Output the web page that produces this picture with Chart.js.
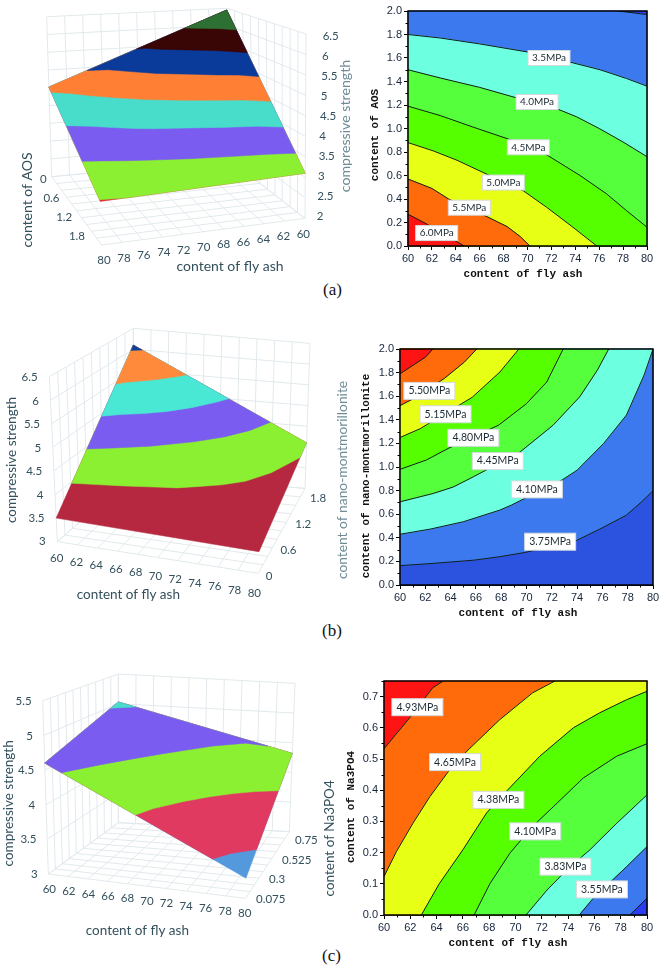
<!DOCTYPE html>
<html>
<head>
<meta charset="utf-8">
<title>compressive strength response surfaces</title>
<script src="https://cdn.jsdelivr.net/npm/chart.js@4"></script>
<style>
  html, body { margin: 0; padding: 0; background: #fff; }
  #page { position: relative; width: 661px; height: 967px; overflow: hidden; background: #fff; }
  #page canvas { position: absolute; }
  .caption { position: absolute; font: 17px "Liberation Serif", serif; color: #111; }
</style>
</head>
<body>
<div id="page">
  <div class="caption" style="left:323px;top:280px">(a)</div>
  <div class="caption" style="left:322px;top:621px">(b)</div>
  <div class="caption" style="left:322px;top:946px">(c)</div>
</div>
<script>
// axis ticks
const ashTicks = [60, 62, 64, 66, 68, 70, 72, 74, 76, 78, 80];
const contentGrid = [0, 0.2, 0.4, 0.6, 0.8, 1.0, 1.2, 1.4, 1.6, 1.8, 2.0];
const contentLabels = [0, 0.6, 1.2, 1.8];
const na3po4Grid = [0, 0.075, 0.15, 0.225, 0.3, 0.375, 0.45, 0.525, 0.6, 0.675, 0.75];
const na3po4Labels = [0.075, 0.3, 0.525, 0.75];
const strengthTicksA = [2, 2.5, 3, 3.5, 4, 4.5, 5, 5.5, 6, 6.5];
const strengthTicksB = [3, 3.5, 4, 4.5, 5, 5.5, 6, 6.5];
const strengthTicksC = [3, 3.5, 4, 4.5, 5, 5.5];

// panel (a) contours, [fly ash, AOS]
const a300 = [[77.6, 2], [80, 1.97]];
const a350 = [[60, 1.80], [62.7, 1.77], [66, 1.72], [70.07, 1.65], [73.55, 1.565], [76.07, 1.50], [78.3, 1.425], [80, 1.36]];
const a400 = [[60, 1.50], [62.7, 1.43], [66, 1.35], [69.1, 1.26], [72.4, 1.17], [74.1, 1.10], [76, 1.0], [78, 0.885], [80, 0.76]];
const a450 = [[60, 1.19], [62.7, 1.11], [65.5, 1.01], [68.4, 0.91], [71.7, 0.77], [74.4, 0.60], [76.6, 0.445], [78.3, 0.30], [80, 0.16]];
const a500 = [[60, 0.88], [62.1, 0.81], [64.1, 0.73], [66.2, 0.63], [69.65, 0.47], [71.6, 0.33], [73.8, 0.16], [75.8, 0]];
const a550 = [[60, 0.57], [62, 0.49], [63.4, 0.40], [66.6, 0.25], [68.3, 0.165], [69.4, 0.08], [70.2, 0]];
const a600 = [[60, 0.27], [61.6, 0.185], [64.7, 0]];
const aLabels = [['3.5MPa', 71.8, 1.60], ['4.0MPa', 70.8, 1.225], ['4.5MPa', 70.07, 0.84], ['5.0MPa', 67.98, 0.54], ['5.5MPa', 65.13, 0.326], ['6.0MPa', 62.4, 0.11]];

// panel (b) contours, [fly ash, nano-montmorillonite]
const b375 = [[60, 0.164], [62.6, 0.183], [65.8, 0.21], [67.9, 0.24], [69.9, 0.276], [73.85, 0.372], [75.8, 0.474], [77.9, 0.592], [79.1, 0.705], [80, 0.798]];
const b410 = [[60, 0.43], [62.4, 0.474], [65, 0.536], [67.9, 0.635], [68.8, 0.677], [72.8, 0.889], [74, 0.973], [76.1, 1.2], [77.9, 1.44], [79.3, 1.78], [80, 2]];
const b445 = [[60, 0.705], [62.6, 0.775], [64.2, 0.83], [65.8, 0.917], [69.5, 1.128], [72.1, 1.354], [74.2, 1.594], [75.6, 1.82], [76.5, 2]];
const b480 = [[60, 0.98], [62.1, 1.06], [63.8, 1.157], [67.8, 1.355], [70, 1.537], [71.6, 1.72], [72.9, 2]];
const b515 = [[60, 1.25], [61.6, 1.325], [65.7, 1.59], [67.9, 1.805], [69.4, 2]];
const b550 = [[60, 1.52], [60.9, 1.57], [63.5, 1.75], [65.1, 1.89], [66.07, 2]];
const b585 = [[60, 1.79], [62, 1.93], [62.6, 2]];
const bLabels = [['5.50MPa', 62.32, 1.645], ['5.15MPa', 63.6, 1.447], ['4.80MPa', 65.8, 1.247], ['4.45MPa', 67.73, 1.05], ['4.10MPa', 70.82, 0.81], ['3.75MPa', 71.87, 0.367]];
// panel (b) surface bands
const b400 = [[60, 0.39], [62.5, 0.43], [65, 0.49], [68, 0.57], [70, 0.62], [72, 0.73], [74, 0.84], [76, 1.0], [78, 1.28], [80, 1.73]];
const b450 = [[60, 0.78], [62.6, 0.88], [65.8, 1.05], [69.5, 1.30], [72.1, 1.52], [74.2, 1.76], [75.7, 2]];
const b500 = [[60, 1.15], [62, 1.24], [64, 1.34], [66, 1.47], [68, 1.65], [70, 1.88], [70.9, 2]];
const b600 = [[60, 1.95], [61, 2]];

// panel (c) contours, [fly ash, Na3PO4]
const c355 = [[74.85, 0], [75.9, 0.053], [78.45, 0.155], [80, 0.219]];
const c328 = [[78.7, 0], [80, 0.054]];
const c383 = [[70.8, 0], [72.4, 0.08], [73.9, 0.145], [75.66, 0.209], [77.7, 0.294], [80, 0.385]];
const c410 = [[66.85, 0], [68.05, 0.10], [69.57, 0.198], [71.3, 0.284], [72.9, 0.348], [75.15, 0.439], [77.7, 0.509], [80, 0.549]];
const c438 = [[62.84, 0], [64.2, 0.10], [66, 0.209], [67.8, 0.327], [69.3, 0.396], [71.85, 0.509], [74.4, 0.60], [76.4, 0.648], [78.45, 0.69], [80, 0.717]];
const c465 = [[60, 0.123], [60.94, 0.203], [62.2, 0.294], [63.5, 0.38], [64.9, 0.46], [66.3, 0.525], [68.8, 0.626], [71.3, 0.712], [73, 0.75]];
const c493 = [[60, 0.533], [61.95, 0.632], [63.7, 0.728], [64.5, 0.75]];
const cLabels = [['4.93MPa', 62.54, 0.666], ['4.65MPa', 65.4, 0.49], ['4.38MPa', 68.7, 0.369], ['4.10MPa', 71.5, 0.268], ['3.83MPa', 73.8, 0.155], ['3.55MPa', 76.57, 0.082]];
// panel (c) surface bands
const c350 = [[76.7, 0], [78, 0.07], [80, 0.154]];
const c400 = [[69, 0], [70, 0.09], [72, 0.23], [74, 0.33], [76, 0.40], [78, 0.45], [80, 0.494]];
const c450 = [[61.7, 0], [64, 0.17], [66, 0.31], [68, 0.43], [70, 0.53], [72, 0.62], [75, 0.70], [77.3, 0.75]];
const c500 = [[60, 0.667], [62, 0.75]];

// strength read at the surface corners
const aCorners = { near: [60, 0, 6.45], left: [80, 0, 4.52], front: [80, 2, 2.98], right: [60, 2, 3.1] };
const bCorners = { a: [60, 0, 3.5], b: [80, 0, 3.44], c: [80, 2, 4.1], d: [60, 2, 6.1] };
const cCorners = { a: [60, 0, 4.6], b: [80, 0, 3.27], c: [80, 0.75, 4.32], d: [60, 0.75, 5.03] };

const page = document.getElementById('page');

function addCanvas(left, top, width, height) {
  const cv = document.createElement('canvas');
  cv.width = width;
  cv.height = height;
  cv.style.left = left + 'px';
  cv.style.top = top + 'px';
  cv.style.width = width + 'px';
  cv.style.height = height + 'px';
  page.appendChild(cv);
  return cv;
}

// fills a dataset's points as a closed shape
const shapeFill = {
  id: 'shapeFill',
  beforeDatasetDraw(chart, args) {
    const color = chart.data.datasets[args.index].shapeColor;
    if (!color) return;
    const ctx = chart.ctx;
    ctx.save();
    ctx.beginPath();
    args.meta.data.forEach((p, i) => (i ? ctx.lineTo(p.x, p.y) : ctx.moveTo(p.x, p.y)));
    ctx.closePath();
    ctx.fillStyle = color;
    ctx.fill();
    ctx.strokeStyle = color;
    ctx.lineWidth = 0.5;
    ctx.stroke();
    ctx.restore();
  }
};

function layered(datasets) {
  return datasets.map((d, i) => ({ pointRadius: 0, showLine: false, ...d, order: -i }));
}

/* ---------- contour panels ---------- */
function contourChart(p) {
  const padLeft = 42, padTop = 10, padRight = 14, padBottom = 42;
  const cv = addCanvas(p.left - padLeft, p.top - padTop, p.width + padLeft + padRight, p.height + padTop + padBottom);
  const toXY = arr => arr.map(v => ({ x: v[0], y: v[1] }));
  const fills = [{ shapeColor: p.base, data: toXY([[60, 0], [80, 0], [80, p.yMax], [60, p.yMax]]) }];
  const lines = [];
  p.layers.forEach(l => {
    fills.push({ shapeColor: l.color, data: toXY(l.line.concat(l.close)) });
    lines.push({ showLine: true, borderColor: '#10201a', borderWidth: 1, data: toXY(l.line) });
  });

  const decorate = {
    id: 'decorate',
    afterDraw(chart) {
      const ctx = chart.ctx, a = chart.chartArea, sx = chart.scales.x, sy = chart.scales.y;
      ctx.save();
      ctx.strokeStyle = '#000';
      ctx.lineWidth = 1;
      for (let v = 61; v < 80; v += 2) {
        const px = Math.round(sx.getPixelForValue(v)) + 0.5;
        ctx.beginPath(); ctx.moveTo(px, a.bottom); ctx.lineTo(px, a.bottom + 2.5); ctx.stroke();
      }
      for (let v = p.yStep / 2; v < p.yMax; v += p.yStep) {
        const py = Math.round(sy.getPixelForValue(v)) + 0.5;
        ctx.beginPath(); ctx.moveTo(a.left, py); ctx.lineTo(a.left - 2.5, py); ctx.stroke();
      }
      ctx.lineWidth = 1.5;
      ctx.strokeRect(a.left, a.top, a.right - a.left, a.bottom - a.top);

      // label boxes sit on the contours
      ctx.textAlign = 'center';
      ctx.textBaseline = 'middle';
      ctx.font = p.labelFont;
      p.labels.forEach(([text, x, y]) => {
        const cx = sx.getPixelForValue(x), cy = sy.getPixelForValue(y);
        ctx.fillStyle = '#fff';
        ctx.strokeStyle = '#d5dadd';
        ctx.lineWidth = 1;
        ctx.fillRect(cx - p.labelW / 2, cy - p.labelH / 2, p.labelW, p.labelH);
        ctx.strokeRect(cx - p.labelW / 2, cy - p.labelH / 2, p.labelW, p.labelH);
        ctx.fillStyle = '#1c2a33';
        ctx.fillText(text, cx, cy);
      });

      // axis titles
      const ox = p.left - padLeft, oy = p.top - padTop;
      ctx.fillStyle = '#111';
      ctx.font = 'bold 11px "Liberation Mono", monospace';
      ctx.fillText(p.xTitle, p.xTitleAt[0] - ox, p.xTitleAt[1] - oy);
      ctx.translate(p.yTitleAt[0] - ox, p.yTitleAt[1] - oy);
      ctx.rotate(-Math.PI / 2);
      ctx.fillText(p.yTitle, 0, 0);
      ctx.restore();
    }
  };

  const tickStyle = { color: '#16263c', font: { family: '"Liberation Sans"', size: 11 }, padding: 2 };
  return new Chart(cv, {
    type: 'scatter',
    data: { datasets: layered(fills.concat(lines)) },
    plugins: [shapeFill, decorate],
    options: {
      responsive: false,
      animation: false,
      layout: { padding: { top: padTop, right: padRight, left: 0, bottom: 0 } },
      plugins: { legend: { display: false }, tooltip: { enabled: false } },
      scales: {
        x: {
          type: 'linear', min: 60, max: 80,
          afterFit: s => { s.height = padBottom; },
          ticks: { ...tickStyle, stepSize: 2, maxRotation: 0, autoSkip: false, callback: v => String(v) },
          grid: { drawOnChartArea: false, tickLength: 4, color: '#000' },
          border: { color: '#000' }
        },
        y: {
          type: 'linear', min: 0, max: p.yMax,
          afterFit: s => { s.width = padLeft; },
          ticks: { ...tickStyle, stepSize: p.yStep, includeBounds: false, autoSkip: false, callback: v => v.toFixed(1) },
          grid: { drawOnChartArea: false, tickLength: 4, color: '#000' },
          border: { color: '#000' }
        }
      }
    }
  });
}

const toA = [[80, 0], [60, 0]];
contourChart({
  left: 408, top: 11, width: 239, height: 235, yMax: 2, yStep: 0.2, base: '#2a3cf0',
  layers: [
    { line: a300, close: [[80, 0], [60, 0], [60, 2]], color: '#3c78ee' },
    { line: a350, close: toA, color: '#6cffe0' },
    { line: a400, close: toA, color: '#55ff3c' },
    { line: a450, close: toA, color: '#55ff00' },
    { line: a500, close: [[60, 0]], color: '#e6ff14' },
    { line: a550, close: [[60, 0]], color: '#ff6a0a' },
    { line: a600, close: [[60, 0]], color: '#ff1414' }
  ],
  labels: aLabels, labelW: 42, labelH: 15, labelFont: '10px Lato',
  xTitle: 'content of fly ash', xTitleAt: [523, 274],
  yTitle: 'content of AOS', yTitleAt: [375, 135]
});

const toB = [[60, 2]];
contourChart({
  left: 400, top: 349, width: 253, height: 236, yMax: 2, yStep: 0.2, base: '#2c52e0',
  layers: [
    { line: b375, close: [[80, 2], [60, 2]], color: '#3c78ee' },
    { line: b410, close: toB, color: '#6cffe0' },
    { line: b445, close: toB, color: '#55ff3c' },
    { line: b480, close: toB, color: '#55ff00' },
    { line: b515, close: toB, color: '#e6ff14' },
    { line: b550, close: toB, color: '#ff6a0a' },
    { line: b585, close: toB, color: '#ff1414' }
  ],
  labels: bLabels, labelW: 51, labelH: 17, labelFont: '10.5px Lato',
  xTitle: 'content of fly ash', xTitleAt: [518, 613],
  yTitle: 'content of nano-montmorillonite', yTitleAt: [366, 476]
});

const toC = [[80, 0.75], [80, 0], [60, 0]];
contourChart({
  left: 384, top: 681, width: 263, height: 234, yMax: 0.75, yStep: 0.1, base: '#ff1414',
  layers: [
    { line: c493, close: toC, color: '#ff6a0a' },
    { line: c465, close: toC, color: '#e6ff14' },
    { line: c438, close: [[80, 0]], color: '#55ff00' },
    { line: c410, close: [[80, 0]], color: '#55ff3c' },
    { line: c383, close: [[80, 0]], color: '#6cffe0' },
    { line: c355, close: [[80, 0]], color: '#3c78ee' },
    { line: c328, close: [[80, 0]], color: '#2a3cf0' }
  ],
  labels: cLabels, labelW: 51, labelH: 17, labelFont: '10.5px Lato',
  xTitle: 'content of fly ash', xTitleAt: [508, 943],
  yTitle: 'content of Na3PO4', yTitleAt: [351, 807]
});

/* ---------- 3D surface panels ---------- */
// box[ash end][content end] = [floor, top], in view units (3 per pixel)
function makeProjector(box, cMax, zMin, zMax) {
  const mix = (a, b, t) => [a[0] + (b[0] - a[0]) * t, a[1] + (b[1] - a[1]) * t];
  return (ash, c, z) => {
    const u = (ash - 60) / 20, v = c / cMax, w = (z - zMin) / (zMax - zMin);
    const at = (i, j) => mix(box[i][j][0], box[i][j][1], w);
    const p = mix(mix(at(0, 0), at(0, 1), v), mix(at(1, 0), at(1, 1), v), u);
    return { x: p[0], y: p[1] };
  };
}

// moves a band end onto the nearest edge of the surface, so bands share one outline
function snapToOutline(q, outline) {
  let best = q, bestD = Infinity;
  outline.forEach((a, i) => {
    const b = outline[(i + 1) % outline.length];
    const dx = b.x - a.x, dy = b.y - a.y;
    const t = Math.max(0, Math.min(1, ((q.x - a.x) * dx + (q.y - a.y) * dy) / (dx * dx + dy * dy)));
    const s = { x: a.x + dx * t, y: a.y + dy * t };
    const d = Math.hypot(s.x - q.x, s.y - q.y);
    if (d < bestD) { bestD = d; best = s; }
  });
  return best;
}

function surfaceChart(p) {
  const cv = addCanvas(0, p.top, p.width, p.height);
  const zMin = p.zTicks[0], zMax = p.zTicks[p.zTicks.length - 1];
  const project = makeProjector(p.box, p.cMax, zMin, zMax);
  const gap = { x: NaN, y: NaN };
  const grid = [];
  const seg = (a, b) => grid.push(project(...a), project(...b), gap);
  ashTicks.forEach(v => {
    seg([v, 0, zMin], [v, p.cMax, zMin]);
    seg([v, p.wallC, zMin], [v, p.wallC, zMax]);
  });
  p.cGrid.forEach(v => {
    seg([60, v, zMin], [80, v, zMin]);
    seg([60, v, zMin], [60, v, zMax]);
  });
  p.zTicks.forEach(v => {
    seg([60, 0, v], [60, p.cMax, v]);
    seg([60, p.wallC, v], [80, p.wallC, v]);
  });

  const outline = p.outline.map(v => project(...v));
  const datasets = [{ showLine: true, borderColor: '#e2e9ec', borderWidth: 1, spanGaps: false, data: grid }];
  datasets.push({ shapeColor: p.base, data: outline });
  p.bands.forEach(b => {
    const iso = b.line.map(v => project(v[0], v[1], b.level));
    iso[0] = snapToOutline(iso[0], outline);
    iso[iso.length - 1] = snapToOutline(iso[iso.length - 1], outline);
    datasets.push({ shapeColor: b.color, data: iso.concat(b.close.map(v => project(...v))) });
  });

  const texts = [];
  const lerpOffset = (o, t) => [o[0][0] + (o[1][0] - o[0][0]) * t, o[0][1] + (o[1][1] - o[0][1]) * t];
  p.zTicks.forEach((v, i) => {
    const q = project(p.zAxis[0], p.zAxis[1], v), o = lerpOffset(p.zOffset, i / (p.zTicks.length - 1));
    texts.push({ text: String(v), x: q.x + o[0], y: q.y + o[1], align: p.zAlign });
  });
  ashTicks.forEach((v, i) => {
    const q = project(v, p.ashAxisC, zMin), o = lerpOffset(p.ashOffset, i / (ashTicks.length - 1));
    texts.push({ text: String(v), x: q.x + o[0], y: q.y + o[1], align: 'center' });
  });
  p.cLabels.forEach((v, i) => {
    const q = project(p.cAxisAsh, v, zMin), o = lerpOffset(p.cOffset, i / (p.cLabels.length - 1));
    texts.push({ text: String(v), x: q.x + o[0], y: q.y + o[1], align: p.cAlign });
  });

  const textPlugin = {
    id: 'surfaceText',
    afterDraw(chart) {
      const ctx = chart.ctx, sx = chart.scales.x, sy = chart.scales.y;
      ctx.save();
      ctx.textBaseline = 'middle';
      ctx.font = '11.5px Lato';
      ctx.fillStyle = '#33505c';
      texts.forEach(t => {
        ctx.textAlign = t.align;
        ctx.fillText(t.text, sx.getPixelForValue(t.x), sy.getPixelForValue(t.y));
      });
      ctx.textAlign = 'center';
      p.titles.forEach(t => {
        ctx.save();
        ctx.translate(sx.getPixelForValue(t.x), sy.getPixelForValue(t.y));
        ctx.rotate((t.rot || 0) * Math.PI / 180);
        ctx.font = t.size + 'px Lato';
        ctx.fillStyle = t.color || '#33505c';
        ctx.fillText(t.text, 0, 0);
        ctx.restore();
      });
      ctx.restore();
    }
  };

  return new Chart(cv, {
    type: 'scatter',
    data: { datasets: layered(datasets) },
    plugins: [shapeFill, textPlugin],
    options: {
      responsive: false,
      animation: false,
      layout: { padding: 0 },
      plugins: { legend: { display: false }, tooltip: { enabled: false } },
      scales: {
        x: { type: 'linear', display: false, min: 0, max: p.width * 3 },
        y: { type: 'linear', display: false, min: 0, max: p.height * 3, reverse: true }
      }
    }
  });
}

const ca = aCorners, cb = bCorners, cc = cCorners;
surfaceChart({
  top: 0, width: 356, height: 300, cMax: 2, wallC: 0, cGrid: contentGrid, cLabels: contentLabels, zTicks: strengthTicksA,
  box: [[[[690, 480], [680, 25]], [[915, 655], [918, 102]]], [[[155, 530], [140, 50]], [[305, 735], [285, 135]]]],
  zAxis: [60, 2], zAlign: 'left', zOffset: [[35, -5], [50, 8]],
  ashAxisC: 2, ashOffset: [[-5, 47], [7, 47]],
  cAxisAsh: 80, cAlign: 'right', cOffset: [[-15, 7], [-35, -6]],
  outline: [ca.near, ca.left, ca.front, ca.right], base: '#e0303a',
  bands: [
    { level: 3, line: a300, close: [ca.left, ca.near, ca.right], color: '#8cf032' },
    { level: 3.5, line: a350, close: [ca.left, ca.near], color: '#7a5cf0' },
    { level: 4, line: a400, close: [ca.left, ca.near], color: '#48dccb' },
    { level: 4.5, line: a450, close: [ca.left, ca.near], color: '#ff8035' },
    { level: 5, line: a500, close: [ca.near], color: '#0a3a9a' },
    { level: 5.5, line: a550, close: [ca.near], color: '#3a0505' },
    { level: 6, line: a600, close: [ca.near], color: '#2e7034' }
  ],
  titles: [
    { text: 'content of fly ash', x: 690, y: 800, size: 14 },
    { text: 'content of AOS', x: 82, y: 600, size: 14, rot: -90 },
    { text: 'compressive strength', x: 1035, y: 378, size: 14.2, rot: -90, color: '#6f8c96' }
  ]
});

surfaceChart({
  top: 325, width: 356, height: 300, cMax: 2, wallC: 2, cGrid: contentGrid, cLabels: contentLabels, zTicks: strengthTicksB,
  box: [[[[172, 650], [148, 155]], [[400, 450], [400, 10]]], [[[775, 745], [790, 230]], [[915, 490], [930, 55]]]],
  zAxis: [60, 0], zAlign: 'right', zOffset: [[-35, 0], [-35, 3]],
  ashAxisC: 0, ashOffset: [[-2, 50], [-12, 60]],
  cAxisAsh: 80, cAlign: 'left', cOffset: [[22, 10], [29, 4]],
  outline: [cb.a, cb.b, cb.c, cb.d], base: '#b5283f',
  bands: [
    { level: 4, line: b400, close: [cb.c, cb.d], color: '#8cf032' },
    { level: 4.5, line: b450, close: [cb.d], color: '#7a5cf0' },
    { level: 5, line: b500, close: [cb.d], color: '#48e8d5' },
    { level: 5.5, line: b550, close: [cb.d], color: '#ff8a3c' },
    { level: 6, line: b600, close: [cb.d], color: '#10409a' }
  ],
  titles: [
    { text: 'content of fly ash', x: 385, y: 810, size: 13.5 },
    { text: 'compressive strength', x: 35, y: 405, size: 13.5, rot: -90 },
    { text: 'content of nano-montmorillonite', x: 1029, y: 465, size: 13.8, rot: -90, color: '#6f8c96' }
  ]
});

surfaceChart({
  top: 650, width: 356, height: 317, cMax: 0.75, wallC: 0.75, cGrid: na3po4Grid, cLabels: na3po4Labels, zTicks: strengthTicksC,
  box: [[[[145, 672], [128, 152]], [[355, 518], [355, 72]]], [[[737, 745], [745, 185]], [[868, 545], [885, 100]]]],
  zAxis: [60, 0], zAlign: 'right', zOffset: [[-32, 0], [-33, 3]],
  ashAxisC: 0, ashOffset: [[3, 45], [-3, 45]],
  cAxisAsh: 80, cAlign: 'left', cOffset: [[18, 23], [17, 27]],
  outline: [cc.a, cc.b, cc.c, cc.d], base: '#5599dd',
  bands: [
    { level: 3.5, line: c350, close: [cc.c, cc.d, cc.a], color: '#e03a60' },
    { level: 4, line: c400, close: [cc.c, cc.d, cc.a], color: '#8cf032' },
    { level: 4.5, line: c450, close: [cc.d, cc.a], color: '#7a5cf0' },
    { level: 5, line: c500, close: [cc.d], color: '#48dccb' }
  ],
  titles: [
    { text: 'content of fly ash', x: 412, y: 843, size: 13.5 },
    { text: 'compressive strength', x: 25, y: 460, size: 13.5, rot: -90 },
    { text: 'content of Na3PO4', x: 990, y: 565, size: 13.5, rot: -90 }
  ]
});
</script>
</body>
</html>
